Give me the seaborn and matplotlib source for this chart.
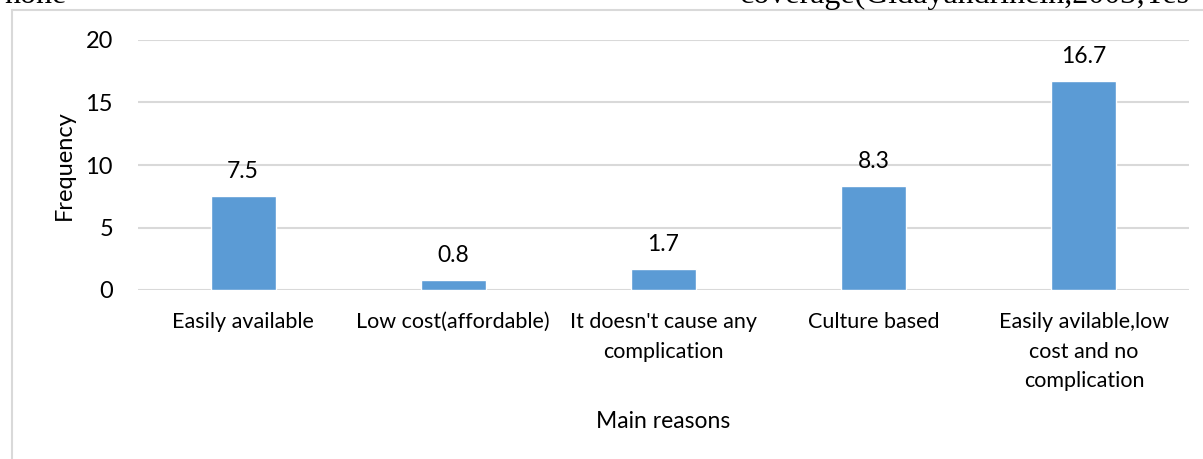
import matplotlib
matplotlib.use("Agg")
import matplotlib.pyplot as plt
import seaborn as sns
import pandas as pd

reasons = [
    "Easily available",
    "Low cost(affordable)",
    "It doesn't cause any\ncomplication",
    "Culture based",
    "Easily avilable,low\ncost and no\ncomplication",
]
frequency = [7.5, 0.8, 1.7, 8.3, 16.7]
y_ticks = [0, 5, 10, 15, 20]

df = pd.DataFrame({"reason": reasons, "frequency": frequency})

sns.set_theme(style="white")
plt.rcParams["font.family"] = ["Lato", "DejaVu Sans"]

W, H = 1203, 459
fig = plt.figure(figsize=(W / 100, H / 100), dpi=100)
ax = fig.add_axes([138 / W, 1 - 290 / H, (1189 - 138) / W, 250 / H])

sns.barplot(data=df, x="reason", y="frequency", color="#5B9BD5",
            width=0.31, saturation=1, ax=ax, zorder=3)

ax.set_ylim(0, 20)
ax.set_yticks(y_ticks)
ax.set_xlim(-0.5, len(reasons) - 0.5)
ax.grid(axis="y", color="#D9D9D9", linewidth=1.5, zorder=0)
for s in ax.spines.values():
    s.set_visible(False)
ax.tick_params(axis="y", length=0, pad=18, labelsize=17, labelcolor="#000000")
ax.tick_params(axis="x", length=0, pad=16, labelsize=15.5, labelcolor="#000000")
for lab in ax.get_xticklabels():
    lab.set_linespacing(1.6)
    lab.set_verticalalignment("top")

ax.set_xlabel("Main reasons", fontsize=16.5, labelpad=14, color="#000000")
ax.set_ylabel("Frequency", fontsize=17, labelpad=8, color="#000000")

for i, v in enumerate(frequency):
    ax.annotate(f"{v:.1f}", (i, v), xytext=(0, 10), textcoords="offset points",
                ha="center", va="bottom", fontsize=16.5, color="#000000")

# Chart frame
fig.add_artist(plt.Line2D([12 / W, 12 / W], [0, 1 - 10 / H],
                          transform=fig.transFigure, color="#D9D9D9", lw=1.5))
fig.add_artist(plt.Line2D([12 / W, 1], [1 - 10 / H, 1 - 10 / H],
                          transform=fig.transFigure, color="#D9D9D9", lw=1.5))

# Surrounding document text running past the top edge
fig.text(4 / W, 1 - 3 / H, "none", family="Liberation Serif", fontsize=23,
         va="baseline", ha="left", color="#000000")
fig.text(740 / W, 1 - 3 / H, "coverage(Gidayandriheln,2003;Tes",
         family="Liberation Serif", fontsize=23, va="baseline", ha="left",
         color="#000000")

fig.savefig("out.png", dpi=100)
